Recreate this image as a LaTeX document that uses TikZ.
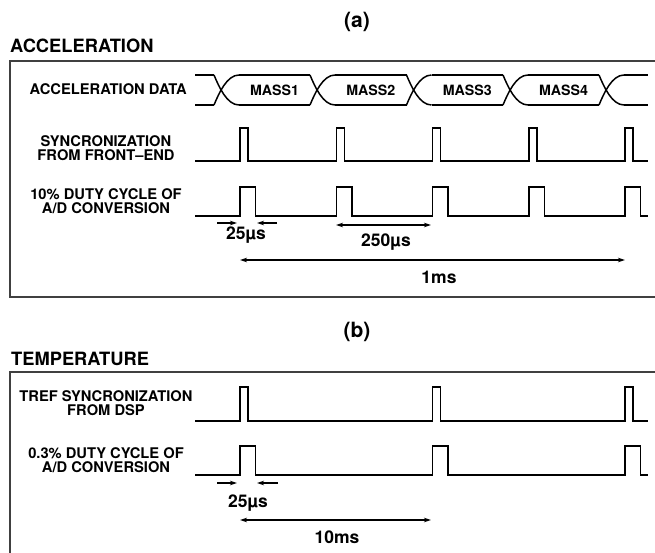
\documentclass[tikz,border=0pt]{standalone}
\usepackage{fontspec}
\setmainfont{TeX Gyre Heros}
\usetikzlibrary{arrows.meta}
\tikzstyle{frame} = [draw=black!75, line width=1.6pt]
\tikzstyle{sig} = [draw=black, line width=1.5pt]
\tikzstyle{dim} = [line width=1.4pt, -{Stealth[length=7pt,width=4.5pt]}]
\tikzstyle{dimboth} = [line width=1.4pt, {Stealth[length=7pt,width=4.5pt]}-{Stealth[length=7pt,width=4.5pt]}]
\tikzstyle{headtext} = [font=\fontsize{18.3}{20}\selectfont\bfseries, inner sep=0pt]
\tikzstyle{captext} = [font=\fontsize{21}{22}\selectfont\bfseries, inner sep=0pt]
\tikzstyle{sigtext} = [font=\fontsize{14.7}{14}\selectfont\bfseries, align=center, inner sep=0pt]
\tikzstyle{masstext} = [font=\fontsize{14.2}{14}\selectfont\bfseries, inner sep=0pt]
\tikzstyle{dimtext} = [font=\fontsize{17.5}{18}\selectfont\bfseries, inner sep=0pt]

\begin{document}
\begin{tikzpicture}[x=1pt, y=-1pt]
\useasboundingbox (0,0) rectangle (655,553);

% (a) acceleration
\node (capa) [captext] at (357,22) {(a)};
\node (acc) [headtext, anchor=base west] at (10,53) {ACCELERATION};
\draw [frame] (660,61) -- (10,61) -- (10,297) -- (660,297);

\node (datalbl) [sigtext, anchor=base east] at (187,95) {ACCELERATION DATA};
\node (synclbl) [sigtext] at (106,148.5) {SYNCRONIZATION\\FROM FRONT--END};
\node (dutylbl) [sigtext] at (106,200.7) {10\% DUTY CYCLE OF\\A/D CONVERSION};

% data bus
\foreach \c in {222,318,414.5,511,607} {
  \draw [sig] (\c-8,75) .. controls (\c-3,87) and (\c+5,105) .. (\c+17,105);
  \draw [sig] (\c-8,105) .. controls (\c-3,93) and (\c+5,75) .. (\c+17,75);
}
\foreach \a/\b in {195/214,239/310,335/406.5,431.5/503,528/599,624/648} {
  \draw [sig] (\a,75) -- (\b,75);
  \draw [sig] (\a,105) -- (\b,105);
}
\node (mass1) [masstext] at (274.5,90) {MASS1};
\node (mass2) [masstext] at (370.8,90) {MASS2};
\node (mass3) [masstext] at (467.3,90) {MASS3};
\node (mass4) [masstext] at (563.5,90) {MASS4};

% sync and a/d
\draw [sig] (195,161) \foreach \p in {240,336.25,432.5,528.75,625} {
  -- (\p,161) -- (\p,128) -- (\p+8,128) -- (\p+8,161) } -- (648,161);
\draw [sig] (195,216) \foreach \p in {240,336.25,432.5,528.75,625} {
  -- (\p,216) -- (\p,187) -- (\p+15.5,187) -- (\p+15.5,216) } -- (648,216);

\coordinate (wa1) at (217,223);
\coordinate (wa2) at (237,223);
\coordinate (wa3) at (277,223);
\coordinate (wa4) at (257,223);
\draw [dim] (wa1) -- (wa2);
\draw [dim] (wa3) -- (wa4);
\node (widtha) [dimtext, anchor=base] at (246,240) {25µs};

\coordinate (pera) at (336,225);
\coordinate (perb) at (431,225);
\draw [dimboth] (pera) -- (perb);
\node (period) [dimtext, anchor=base] at (386,247) {250µs};

\coordinate (msa) at (240,260);
\coordinate (msb) at (625,260);
\draw [dimboth] (msa) -- (msb);
\node (onems) [dimtext, anchor=base] at (439,283) {1ms};

% (b) temperature
\node (capb) [captext] at (357,332) {(b)};
\node (temp) [headtext, anchor=base west] at (11,365) {TEMPERATURE};
\draw [frame] (660,372) -- (10,372) -- (10,560);

\node (treflbl) [sigtext] at (106,403.5) {TREF SYNCRONIZATION\\FROM DSP};
\node (duty2lbl) [sigtext] at (106,460.5) {0.3\% DUTY CYCLE OF\\A/D CONVERSION};

\draw [sig] (195,421) \foreach \p in {240,432.5,625} {
  -- (\p,421) -- (\p,387) -- (\p+8,387) -- (\p+8,421) } -- (648,421);
\draw [sig] (195,475) \foreach \p in {240,432.5,625} {
  -- (\p,475) -- (\p,446) -- (\p+15.5,446) -- (\p+15.5,475) } -- (648,475);

\coordinate (wb1) at (217,483);
\coordinate (wb2) at (237,483);
\coordinate (wb3) at (278,483);
\coordinate (wb4) at (257,483);
\draw [dim] (wb1) -- (wb2);
\draw [dim] (wb3) -- (wb4);
\node (widthb) [dimtext, anchor=base] at (248,507) {25µs};

\coordinate (tena) at (240,520);
\coordinate (tenb) at (431,520);
\draw [dimboth] (tena) -- (tenb);
\node (tenms) [dimtext, anchor=base] at (337,543) {10ms};
\end{tikzpicture}
\end{document}
